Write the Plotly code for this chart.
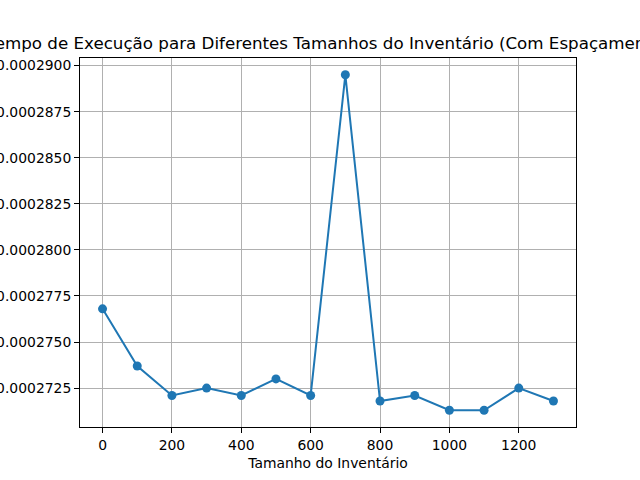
import plotly.graph_objects as go

tamanhos = [0, 100, 200, 300, 400, 500, 600, 700, 800, 900, 1000, 1100, 1200, 1300]
tempos = [0.0002768, 0.0002737, 0.0002721, 0.0002725, 0.0002721, 0.0002730, 0.0002721,
          0.0002895, 0.0002718, 0.0002721, 0.0002713, 0.0002713, 0.0002725, 0.0002718]

titulo = "Tempo de Execução para Diferentes Tamanhos do Inventário (Com Espaçamento)"
x_label = "Tamanho do Inventário"

azul = "#1f77b4"
fonte = "DejaVu Sans"

fig = go.Figure()
fig.add_trace(
    go.Scatter(
        x=tamanhos,
        y=tempos,
        mode="lines+markers",
        line=dict(color=azul, width=2),
        marker=dict(color=azul, size=9),
        showlegend=False,
    )
)

# margem de 5% como no matplotlib
xspan = max(tamanhos) - min(tamanhos)
yspan = max(tempos) - min(tempos)

eixo = dict(
    showline=True, linecolor="black", linewidth=1, mirror=True,
    ticks="outside", ticklen=5, tickcolor="black", tickwidth=1,
    showgrid=True, gridcolor="#b0b0b0", gridwidth=1,
    zeroline=False, automargin=False,
    tickfont=dict(family=fonte, size=13.9, color="black"),
)

fig.update_layout(
    width=640, height=480,
    margin=dict(l=80, r=64, t=58, b=53),
    paper_bgcolor="white", plot_bgcolor="white",
    font=dict(family=fonte, color="black"),
    title=dict(
        text=titulo, x=0.5, xref="paper", xanchor="center",
        y=1 - 43 / 480, yref="container", yanchor="middle",
        font=dict(family=fonte, size=16.7, color="black"),
    ),
    xaxis=dict(
        eixo,
        range=[min(tamanhos) - 0.05 * xspan, max(tamanhos) + 0.05 * xspan],
        tick0=0, dtick=200,
        title=dict(text=x_label, font=dict(family=fonte, size=13.9, color="black"), standoff=6),
    ),
    yaxis=dict(
        eixo,
        range=[min(tempos) - 0.05 * yspan, max(tempos) + 0.05 * yspan],
        tick0=0, dtick=0.0000025, tickformat=".7f",
    ),
)

# sem margem da página, para a figura ocupar a janela toda
fig.write_html(
    "out.html",
    config={"displayModeBar": False},
    post_script="document.body.style.margin = '0';",
)
